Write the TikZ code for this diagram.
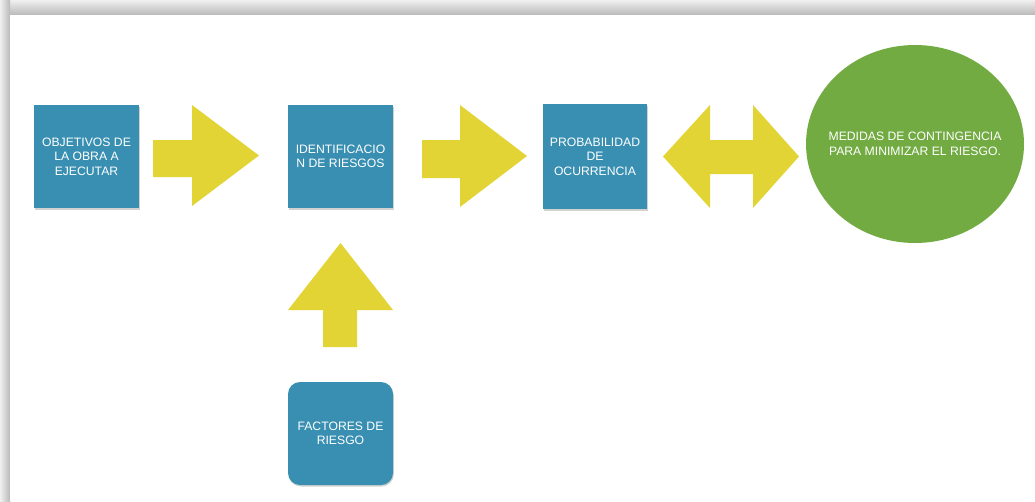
\documentclass[tikz,border=0pt]{standalone}
\usepackage{fontspec}
\setmainfont{Liberation Sans}
\usetikzlibrary{shapes.geometric,shadows}
\definecolor{boxblue}{RGB}{56,143,178}
\definecolor{arrowyellow}{RGB}{226,212,52}
\definecolor{circgreen}{RGB}{114,171,66}
\tikzset{
  boxtext/.style={text=white, align=center, font=\fontsize{12.2}{14.5}\selectfont},
  bluebox/.style={boxtext, fill=boxblue, minimum width=105pt, minimum height=103pt, inner sep=2pt,
     drop shadow={opacity=0.35, shadow xshift=0.8pt, shadow yshift=-1.5pt}},
  yarrow/.style={fill=arrowyellow},
}
\begin{document}
\begin{tikzpicture}[x=1pt,y=-1pt]
\useasboundingbox (0,0) rectangle (1035,501);
% page frame shadow
\fill[white] (0,0) rectangle (1035,501);
\shade[top color=gray!12, bottom color=gray!55] (0,0) rectangle (1035,15);
\shade[left color=gray!12, right color=gray!55] (0,0) rectangle (10,501);
\fill[white] (10,15) rectangle (1035,501);

% boxes
\node[bluebox] (obj) at (86.5,156.5) {OBJETIVOS DE\\LA OBRA A\\EJECUTAR};
\node[bluebox] (ide) at (340.5,156.5) {IDENTIFICACIO\\N DE RIESGOS};
\node[bluebox, minimum width=104pt, minimum height=105pt] (pro) at (595,156.5) {PROBABILIDAD\\DE\\OCURRENCIA};
\node[bluebox, rounded corners=12pt] (fac) at (340.5,433.5) {FACTORES DE\\RIESGO};
\node[ellipse, fill=circgreen, minimum width=218pt, minimum height=198pt, inner sep=0pt] (med) at (915,144) {};
\node[boxtext] (medtext) at (med.center) {MEDIDAS DE CONTINGENCIA\\PARA MINIMIZAR EL RIESGO.};

% arrows
\fill[yarrow] (153,140) -- (192,140) -- (192,105) -- (259,155.5) -- (192,206) -- (192,177) -- (153,177) -- cycle;
\fill[yarrow] (422,140) -- (460,140) -- (460,105) -- (527,156) -- (460,207) -- (460,178) -- (422,178) -- cycle;
\fill[yarrow] (663,156.5) -- (710,105) -- (710,140) -- (753,140) -- (753,105) -- (799,156.5) -- (753,208) -- (753,174) -- (710,174) -- (710,208) -- cycle;
\fill[yarrow] (340.5,243) -- (393,310) -- (357,310) -- (357,347) -- (323,347) -- (323,310) -- (288,310) -- cycle;
\end{tikzpicture}
\end{document}
